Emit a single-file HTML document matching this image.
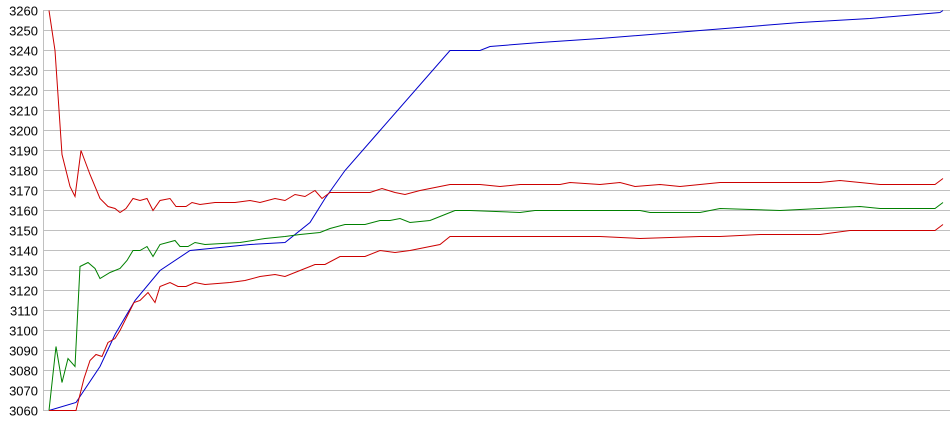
<!DOCTYPE html>
<html><head><style>
html,body{margin:0;padding:0;background:#fff;width:950px;height:435px;overflow:hidden}
svg{display:block}
text{font-family:"Liberation Sans",Arial,sans-serif;font-size:13px;fill:#000}
</style></head><body>
<svg width="950" height="435" viewBox="0 0 950 435">
<g stroke="#c0c0c0" stroke-width="1" id="grid"></g>
<g id="lab"></g>
<line x1="43.5" y1="10" x2="43.5" y2="411" stroke="#c0c0c0"/>
<g transform="matrix(1 0 0 -2 0 6530.5)" fill="none" stroke-width="1" >
<polyline vector-effect="non-scaling-stroke" stroke="#0000cc" points="49,3060 76,3064 100,3082 115,3098 135,3115 160,3130 190,3140 210,3141 250,3143 285,3144 310,3154 325,3166 345,3180 380,3200 450,3240 480,3240 490,3242 540,3244 600,3246 700,3250 800,3254 870,3256 940,3259 943,3260"/>
<polyline vector-effect="non-scaling-stroke" stroke="#cc0000" points="49,3260 55,3240 62,3188 70,3172 75,3167 81,3190 90,3178 100,3166 108,3162 115,3161 120,3159 126,3161 133,3166 140,3165 147,3166 153,3160 160,3165 170,3166 176,3162 186,3162 192,3164 200,3163 215,3164 235,3164 250,3165 260,3164 275,3166 285,3165 295,3168 305,3167 315,3170 322,3166 330,3169 370,3169 382,3171 395,3169 405,3168 420,3170 440,3172 450,3173 480,3173 500,3172 520,3173 560,3173 570,3174 600,3173 620,3174 635,3172 660,3173 680,3172 700,3173 720,3174 790,3174 820,3174 840,3175 860,3174 880,3173 935,3173 943,3176"/>
<polyline vector-effect="non-scaling-stroke" stroke="#008000" points="49,3060 56,3092 62,3074 68,3086 75,3082 80,3132 88,3134 95,3131 100,3126 110,3129 120,3131 127,3135 133,3140 140,3140 147,3142 153,3137 160,3143 175,3145 180,3142 188,3142 195,3144 205,3143 240,3144 265,3146 285,3147 300,3148 320,3149 330,3151 345,3153 365,3153 380,3155 390,3155 400,3156 410,3154 430,3155 445,3158 455,3160 470,3160 520,3159 535,3160 600,3160 640,3160 650,3159 700,3159 720,3161 780,3160 860,3162 880,3161 935,3161 943,3164"/>
<polyline vector-effect="non-scaling-stroke" stroke="#cc0000" points="49,3060 76,3060 84,3076 90,3085 96,3088 102,3087 108,3094 115,3096 120,3100 128,3108 134,3114 140,3115 148,3119 155,3114 160,3122 170,3124 178,3122 186,3122 195,3124 205,3123 230,3124 245,3125 260,3127 275,3128 285,3127 300,3130 315,3133 325,3133 340,3137 365,3137 380,3140 395,3139 410,3140 430,3142 440,3143 450,3147 470,3147 520,3147 560,3147 600,3147 640,3146 700,3147 720,3147 760,3148 820,3148 850,3150 880,3150 935,3150 943,3153"/>
</g>
<script>
var g=document.getElementById('grid'),l=document.getElementById('lab'),ns='http://www.w3.org/2000/svg';
for(var i=0;i<=20;i++){var y=10.5+i*20;var ln=document.createElementNS(ns,'line');ln.setAttribute('x1',43);ln.setAttribute('x2',950);ln.setAttribute('y1',y);ln.setAttribute('y2',y);g.appendChild(ln);
var t=document.createElementNS(ns,'text');t.setAttribute('x',38);t.setAttribute('y',y+5);t.setAttribute('text-anchor','end');t.textContent=3260-i*10;l.appendChild(t);}
</script>
</svg>
</body></html>
